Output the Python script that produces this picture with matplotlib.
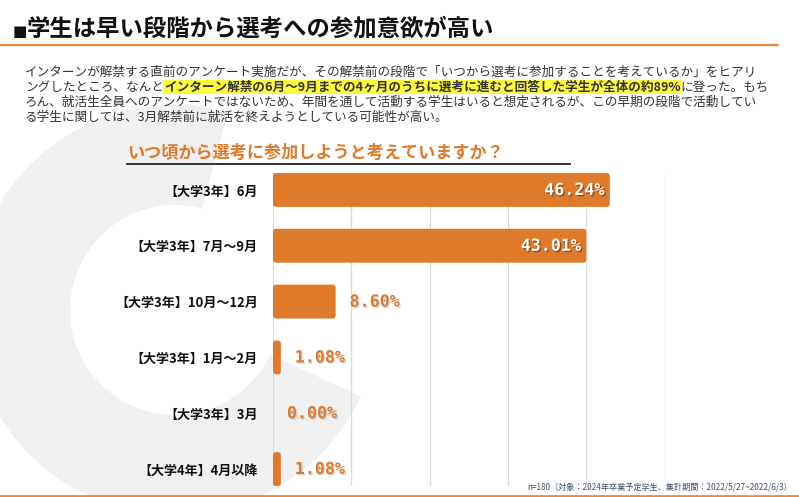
import matplotlib.pyplot as plt
import matplotlib.patheffects as pe
from matplotlib.patches import Wedge, FancyBboxPatch
import numpy as np

plt.rcParams['font.family'] = ['Noto Sans CJK JP', 'DejaVu Sans']

# data
categories = ['【大学3年】6月', '【大学3年】7月～9月', '【大学3年】10月～12月',
              '【大学3年】1月～2月', '【大学3年】3月', '【大学4年】4月以降']
shares = [46.24, 43.01, 8.60, 1.08, 0.00, 1.08]

title = '学生は早い段階から選考への参加意欲が高い'
chart_title = 'いつ頃から選考に参加しようと考えていますか？'
para_1 = 'インターンが解禁する直前のアンケート実施だが、その解禁前の段階で「いつから選考に参加することを考えているか」をヒアリ'
para_2a = 'ングしたところ、なんと'
para_2b = 'インターン解禁の6月～9月までの4ヶ月のうちに選考に進むと回答した学生が全体の約89%'
para_2c = 'に登った。もち'
para_3 = 'ろん、就活生全員へのアンケートではないため、年間を通して活動する学生はいると想定されるが、この早期の段階で活動してい'
para_4 = 'る学生に関しては、3月解禁前に就活を終えようとしている可能性が高い。'
note = 'n=180（対象：2024年卒業予定学生、集計期間：2022/5/27~2022/6/3）'

ORANGE = '#e07a2b'
LINE_ORANGE = '#ef8a3a'
W, H = 799, 497

fig = plt.figure(figsize=(W / 100, H / 100), dpi=100)
bg = fig.add_axes([0, 0, 1, 1])
bg.set_xlim(0, W)
bg.set_ylim(H, 0)
bg.axis('off')

# faint logo ring in the background (C shape open to the upper right)
bg.add_patch(Wedge((175, 310), 205, 25, 285, width=100, color='#f0f0f0', lw=0))

# header
bg.text(13, 31, '■', fontsize=11, fontweight='bold', va='center', color='#111111',
        family='DejaVu Sans')
bg.text(27, 29, title, fontsize=16.8, fontweight='bold', va='center', color='#111111')
bg.plot([0, 778], [45, 45], color=LINE_ORANGE, lw=1.6)

# paragraph
px, fs, tc = 25, 9.1, '#333333'
bg.text(px, 72, para_1, fontsize=fs, color=tc, va='center')
t = bg.text(px, 87, para_2a, fontsize=fs, color=tc, va='center')
fig.canvas.draw()
r = fig.canvas.get_renderer()
x2 = px + t.get_window_extent(r).width
t2 = bg.text(x2, 87, para_2b, fontsize=fs, color=tc, va='center', fontweight='bold',
             bbox=dict(facecolor='#fdfb3c', edgecolor='none', pad=0.6))
x3 = x2 + t2.get_window_extent(r).width
bg.text(x3, 87, para_2c, fontsize=fs, color=tc, va='center')
bg.text(px, 102, para_3, fontsize=fs, color=tc, va='center')
bg.text(px, 117, para_4, fontsize=fs, color=tc, va='center')

# chart title
bg.text(127, 153, chart_title, fontsize=12.3, fontweight='bold', color=ORANGE, va='center')
bg.plot([127, 570], [164, 164], color='#222222', lw=1.3)

# footnote and bottom rule
bg.text(792, 487, note, fontsize=5.9, color='#3d5068', ha='right', va='center')
bg.plot([0, W], [496, 496], color=LINE_ORANGE, lw=2)

# bar chart
left, right, top, bottom = 273, 665, 173, 486
ax = fig.add_axes([left / W, 1 - bottom / H, (right - left) / W, (bottom - top) / H])
ax.patch.set_alpha(0)
xmax = 53.8
bh = 0.607
y = np.arange(len(categories))
ax.set_xlim(0, xmax + 0.02)
ax.set_ylim(len(categories) - 1 + bh / 2, -bh / 2)
ax.set_xticks(np.linspace(0, xmax, 6))
ax.grid(axis='x', color='#d9d9d9', lw=0.9)
ax.set_axisbelow(True)
for s in ax.spines.values():
    s.set_visible(False)
ax.tick_params(axis='x', length=0, labelbottom=False)
ax.tick_params(axis='y', length=0, pad=11)
ax.set_yticks(y, categories, fontsize=9.4, fontweight='bold', color='#111111')

bars = ax.barh(y, shares, height=bh, color=ORANGE, zorder=3)
# swap plain rectangles for slightly rounded ones
px_x = (right - left) / (xmax + 0.02)
px_y = (bottom - top) / (len(categories) - 1 + bh)
for b in bars:
    b.set_visible(False)
    if b.get_width() <= 0:
        continue
    rs = min(3 / px_x, b.get_width() / 2)
    ax.add_patch(FancyBboxPatch((b.get_x(), b.get_y()), b.get_width(), b.get_height(),
                                boxstyle=f'round,pad=0,rounding_size={rs}',
                                mutation_aspect=px_x / px_y,
                                facecolor=ORANGE, edgecolor='none', zorder=3))

for v, yi in zip(shares, y):
    lab = f'{v:.2f}%'
    if v > 20:
        ax.annotate(lab, (v, yi), xytext=(-4, 0), textcoords='offset points',
                    ha='right', va='center', color='white', fontsize=12,
                    fontfamily='DejaVu Sans Mono', fontweight='bold', zorder=4,
                    path_effects=[pe.withSimplePatchShadow(offset=(1, -1), shadow_rgbFace='black', alpha=0.35)])
    else:
        ax.annotate(lab, (v, yi), xytext=(10, 0), textcoords='offset points',
                    ha='left', va='center', color=ORANGE, fontsize=12,
                    fontfamily='DejaVu Sans Mono', fontweight='bold', zorder=4,
                    path_effects=[pe.withSimplePatchShadow(offset=(1, -1), shadow_rgbFace='gray', alpha=0.3)])

fig.savefig('out.png', dpi=100)
